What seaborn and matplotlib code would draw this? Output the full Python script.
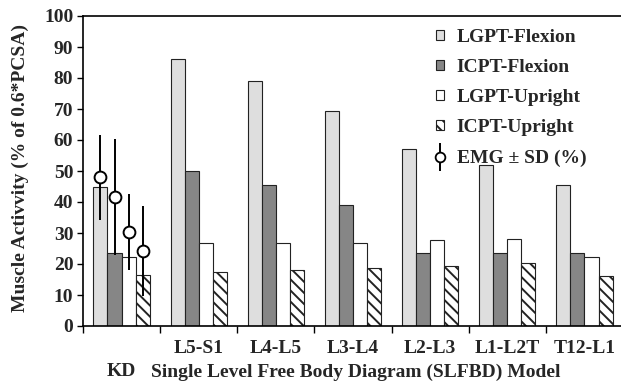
import matplotlib
matplotlib.use("Agg")
import matplotlib.pyplot as plt
from matplotlib.lines import Line2D
from matplotlib.patches import Patch
import seaborn as sns
import pandas as pd
import numpy as np

categories = ["KD", "L5-S1", "L4-L5", "L3-L4", "L2-L3", "L1-L2T", "T12-L1"]
tick_labels = ["", "L5-S1", "L4-L5", "L3-L4", "L2-L3", "L1-L2T", "T12-L1"]
series = ["LGPT-Flexion", "ICPT-Flexion", "LGPT-Upright", "ICPT-Upright"]
lgpt_flexion = [45, 86, 79, 69.5, 57, 52, 45.5]
icpt_flexion = [23.5, 50, 45.5, 39, 23.5, 23.5, 23.5]
lgpt_upright = [22.3, 26.8, 26.8, 26.8, 27.7, 28.2, 22.2]
icpt_upright = [16.3, 17.3, 18.2, 18.6, 19.5, 20.4, 16.2]
emg_mean = [48, 41.6, 30.3, 24.2]
emg_sd = [13.7, 18.6, 12.2, 14.4]

sns.set_theme(style="white")
plt.rcParams["font.family"] = ["Liberation Serif", "DejaVu Serif"]
plt.rcParams["font.weight"] = "bold"
plt.rcParams["hatch.linewidth"] = 1.4

FS = 14

df = pd.DataFrame({
    "category": categories * 4,
    "series": sum([[s] * len(categories) for s in series], []),
    "value": lgpt_flexion + icpt_flexion + lgpt_upright + icpt_upright,
})

colors = {"LGPT-Flexion": "#dedede", "ICPT-Flexion": "#868686",
          "LGPT-Upright": "#ffffff", "ICPT-Upright": "#ffffff"}

fig = plt.figure(figsize=(6.21, 3.89), dpi=100)
ax = fig.add_axes([83 / 621, 63 / 389, 540 / 621, 310 / 389])

sns.barplot(data=df, x="category", y="value", hue="series", order=categories,
            hue_order=series, palette=colors, width=0.73, edgecolor="#222222",
            linewidth=0.8, ax=ax, legend=False, saturation=1)

for bar in ax.containers[3]:
    bar.set_hatch("\\\\\\")

# EMG on KD bars
xs = [c[0].get_x() + c[0].get_width() / 2 for c in ax.containers]
ax.errorbar(xs, emg_mean, yerr=emg_sd, fmt="o", color="black", mfc="white",
            mec="black", ms=8.5, mew=1.4, elinewidth=1.4, capsize=0, zorder=5)

ax.set_ylim(0, 100)
ax.set_xlim(-0.5, 6.5)
ax.set_yticks(np.arange(0, 101, 10))
ax.set_yticklabels([str(v) for v in range(0, 101, 10)], fontsize=FS, fontweight="bold")
ax.set_xticks(range(len(categories)))
ax.set_xticklabels(tick_labels, fontsize=FS, fontweight="bold")
ax.set_xticks(np.arange(-0.5, 7.0, 1.0), minor=True)
ax.tick_params(axis="x", which="major", length=0, pad=10)
ax.tick_params(axis="x", which="minor", length=5, width=1, direction="out", bottom=True, color="black")
ax.tick_params(axis="y", length=4, width=1, direction="out", left=True, color="black", pad=3)

for s in ["left", "top", "bottom"]:
    ax.spines[s].set_color("black")
    ax.spines[s].set_linewidth(1.2)
ax.spines["right"].set_visible(False)

ax.set_ylabel("Muscle Activvity (% of 0.6*PCSA)", fontsize=FS, fontweight="bold")
ax.yaxis.label.set_va("center")
ax.yaxis.set_label_coords(-(83 - 20) / 540, 0.51)
ax.set_xlabel("Single Level Free Body Diagram (SLFBD) Model", fontsize=FS, fontweight="bold")
ax.xaxis.label.set_va("center")
ax.xaxis.set_label_coords(0.505, -(372 - 326) / 310)
ax.text(0, -(372 - 326) / 310, "KD", transform=ax.get_xaxis_transform(), ha="center",
        va="center", fontsize=FS, fontweight="bold")

handles = [Patch(facecolor=colors[s], edgecolor="#222222", linewidth=0.8) for s in series]
handles[3].set_hatch("\\\\\\")
emg_handle = (Line2D([], [], marker="|", ms=20, mew=1.4, color="black", ls="none"),
              Line2D([], [], marker="o", ms=7, mfc="white", mec="black", mew=1.3, ls="none"))
handles.append(emg_handle)
labels = series + ["EMG ± SD (%)"]
leg = ax.legend(handles, labels, loc="upper left", bbox_to_anchor=(426 / 621, 1 - 19 / 389),
                bbox_transform=fig.transFigure, frameon=False,
                handlelength=0.42, handleheight=0.42, handletextpad=0.65,
                labelspacing=0.68, borderpad=0, prop={"weight": "bold", "size": FS})

fig.savefig("out.png", dpi=100)
